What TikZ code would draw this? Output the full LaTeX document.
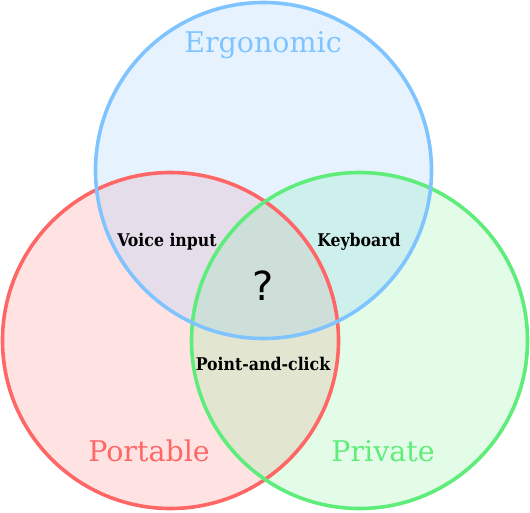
\documentclass[tikz,border=0pt]{standalone}
\usepackage{fontspec}
\setmainfont{DejaVu Serif}
\newfontfamily\condfont{DejaVu Serif Condensed}
\newfontfamily\qfont{DejaVu Sans}
\definecolor{cblue}{RGB}{128,196,255}
\definecolor{cred}{RGB}{255,102,102}
\definecolor{cgreen}{RGB}{94,236,122}
\begin{document}
\begin{tikzpicture}[x=1pt,y=-1pt,
  setcircle/.style={line width=3.6pt},
  biglabel/.style={font=\fontsize{28.5}{32}\selectfont},
  smalllabel/.style={font=\condfont\fontsize{17.5}{20}\selectfont\bfseries, text=black}]
\useasboundingbox (0,0) rectangle (530,512);
\fill[cred, fill opacity=0.18] (170.5,340.5) circle (168);
\fill[cgreen, fill opacity=0.18] (359.5,340.5) circle (168);
\fill[cblue, fill opacity=0.2] (263.5,170.5) circle (168);
\draw[setcircle, cred] (170.5,340.5) circle (168);
\draw[setcircle, cgreen] (359.5,340.5) circle (168);
\draw[setcircle, cblue] (263.5,170.5) circle (168);
\node[biglabel, text=cblue] (ergo) at (263,45) {Ergonomic};
\node[biglabel, text=cred] (port) at (149,451) {Portable};
\node[biglabel, text=cgreen] (priv) at (383,451) {Private};
\node[smalllabel] (voice) at (167,242) {Voice input};
\node[smalllabel] (key) at (359,242) {Keyboard};
\node[smalllabel] (point) at (263,364) {Point-and-click};
\node[font=\qfont\fontsize{40}{44}\selectfont] (q) at (263,286) {?};
\end{tikzpicture}
\end{document}
